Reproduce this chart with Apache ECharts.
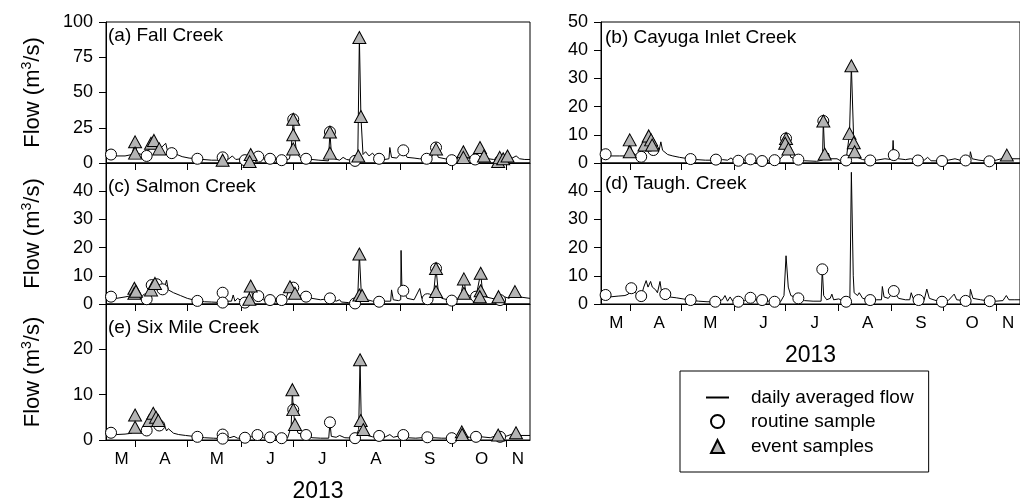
<!DOCTYPE html>
<html>
<head>
<meta charset="utf-8">
<script src="https://cdn.jsdelivr.net/npm/echarts@6/dist/echarts.min.js"></script>
<style>
html,body{margin:0;padding:0;background:#fff;}
#chart{width:1020px;height:504px;}
</style>
</head>
<body>
<div id="chart"></div>
<script>
// x values are day-of-year 2013
const xMin = 74;   // 15 Mar
const xMax = 319;  // 15 Nov
const monthTickDays = [91, 121, 152, 182, 213, 244, 274, 305];
const monthLabelDays = [83, 108, 138, 169, 199, 230, 261, 291, 312];
const monthLabels = ['M', 'A', 'M', 'J', 'J', 'A', 'S', 'O', 'N'];
const yearLabel = '2013';
const yNameParts = ['Flow (m', '3', '/s)'];
const legendNames = ['daily averaged flow', 'routine sample', 'event samples'];
const panelTitles = ['(a) Fall Creek', '(b) Cayuga Inlet Creek', '(c) Salmon Creek', '(d) Taugh. Creek', '(e) Six Mile Creek'];

// (a) Fall Creek
const flowA = [[74,5.5],[77,6],[80,5],[85,5],[89,6],[90.8,15],[92,7],[96,5.5],[97.5,5],[99,10],[100.4,15],[101.7,16],[103,12],[104.8,10],[106,11],[108.5,14],[109.5,9],[112,7],[115,6],[118,4.5],[122,3.5],[126.8,3],[130,2.5],[135,2],[140,2],[141.4,4],[143,2],[145,3],[147,5],[149,2.5],[152,3],[154.3,2],[156,2.5],[157.6,6],[159,3],[162,4.5],[165,3],[168.8,3],[172,2.5],[175.5,2],[178,2],[180,3],[181,10],[182.2,31],[183,20],[184,8],[186,4],[189.6,3],[193,2.5],[197,2],[202.5,1.5],[203.4,22],[204.2,7],[206,3],[209,2],[211,4],[213,2.5],[217.9,1.5],[219.5,5],[220.4,89],[221.3,33],[222.5,6],[224,8],[226,5],[228,7],[230,4],[231.8,3],[235,2.5],[237.5,3],[238,11],[239,4],[242,3.5],[245.8,9],[248,4],[252,3.5],[255,3],[259.3,3],[262,4],[264.7,10],[266,4],[270,3],[273.8,2],[277,3],[280.5,8],[282,4],[285,3],[287.3,2.5],[290.1,11],[292.4,5],[295,3],[298,2.5],[301,1.5],[303,4],[306,5],[308,3],[311,5],[313,3],[316,2.5],[319,2.5]];
const routineA = [[76.9,6],[97.5,5],[112,7],[126.8,3],[141.4,4],[154.3,2],[162,4.5],[168.8,3],[175.5,2],[182.2,31],[189.6,3],[203.4,22],[217.9,1.5],[231.8,3],[245.8,9],[259.3,3],[264.7,11],[273.8,2],[287.3,2.5],[301.7,1.5]];
const eventA = [[90.8,15],[90.8,7],[100,14],[101.7,16],[104.8,10],[141.4,2],[157.6,6],[157,1],[182.2,31],[182.2,20],[182.2,10],[203.4,22],[203.4,7],[220.4,89],[221.3,33],[219.8,5],[264.7,10],[280.5,8],[280.5,4],[290.1,11],[292.4,5],[300.6,1],[301.5,4],[303.5,3],[306,5]];

// (b) Cayuga Inlet Creek
const flowB = [[74,3],[76.7,3.1],[79,2.5],[85,2.5],[89,2.5],[90.8,8],[92,4],[95,2.5],[97.5,2.2],[99.4,6.4],[101.9,9.6],[103.3,8],[104.6,5],[106,5],[108,4.5],[109,7.5],[110,4.5],[113,3],[116,2.5],[120,2],[126.4,1.4],[130,1.2],[135,1],[141.2,1],[145,1.2],[148,1],[150,1.8],[152,0.8],[154.3,0.8],[158,1],[161.4,1.3],[165,0.8],[168.2,0.7],[172,0.8],[175.5,1],[178,1],[181,3],[182.2,8.7],[183.6,5],[185,2],[189.4,1.2],[193,0.8],[200,0.6],[203.5,1],[204,14.9],[204.8,3.2],[206,2],[207,3.5],[208,1.5],[212,1.5],[214,0.8],[217.3,0.9],[219.3,10.5],[220.4,34.5],[221.8,7.2],[222.3,4],[224,2],[227,1.2],[231.4,0.9],[235,1],[240,1.5],[244.3,1.2],[244.8,8],[245.2,2.8],[248,1.5],[252,1.2],[255,1.5],[259.3,0.9],[263,1],[265,2],[267,0.8],[273.4,0.7],[277,1],[281,1.5],[285,0.8],[287.2,0.9],[289.5,1.2],[290,4],[291,1.5],[295,1],[301.1,0.6],[305,1],[308,1.5],[311.3,2.8],[314,1.5],[319,1.5]];
const routineB = [[76.7,3.1],[97.5,2.2],[104.6,4.6],[126.4,1.4],[141.2,1.2],[154.3,0.8],[161.4,1.3],[168.2,0.7],[175.5,1],[182.2,8.7],[189.4,1.2],[204,14.9],[217.3,0.9],[231.4,0.9],[245.2,2.8],[259.3,0.9],[273.4,0.7],[287.2,0.9],[301.1,0.6]];
const eventB = [[90.8,8.2],[90.8,4],[99.4,6.4],[101.9,9.6],[103.3,8.2],[103.9,6.4],[182.2,8.7],[181.7,7],[183.6,5],[204,14.9],[204.8,3.2],[220.4,34.5],[219.3,10.5],[221.8,7.2],[222.3,4],[311.3,2.8]];

// (c) Salmon Creek
const flowC = [[74,2.5],[76.9,2.6],[80,2],[85,2.5],[89,3],[90.5,5.6],[92,3.5],[95,2],[97.5,1.7],[100,5],[102.3,7.3],[103.3,7],[105,5.5],[106.7,5.2],[108,6],[109,8.5],[110,5],[113,4],[117,3],[121,2],[126.8,1.1],[131,0.8],[135,0.7],[141,0.5],[143,1],[146.5,1],[147.5,3.2],[148.5,1],[150,2],[154.3,0.5],[156,1],[157.6,6.4],[159,2],[162,2.8],[165,1.5],[168.8,1.4],[172,1.2],[175.5,1.4],[178,2],[180.3,6.1],[182.2,5.8],[183.2,3.8],[185,3],[189.6,2.6],[193,2],[198,1.5],[203.4,2],[207,1],[209,1.5],[210,0.7],[214,0.5],[217.9,0.2],[219.5,3],[220.4,17.7],[221.5,4],[223,3],[225,1.5],[228,1],[231.8,0.8],[235,1],[238.5,1],[239,5],[240,1.5],[243,1.2],[244.3,1.5],[244.5,19],[245,5.5],[245.8,4.7],[248,2],[252,1.5],[255.3,5.5],[256.5,2],[259.8,1.7],[262,2],[263.5,5],[264.7,12.6],[266,4.4],[268,2],[273.8,1.2],[277,1.5],[279,3],[280.8,8.9],[282,3.8],[285,2.5],[287.8,2.6],[290.5,10.9],[291.5,4.7],[293,2.6],[297,2],[301,1.4],[304,2.6],[307,2],[310.3,4.4],[313,2.5],[319,2]];
const routineC = [[76.9,2.6],[97.5,1.7],[100.4,6.7],[103.3,7],[106.7,5.2],[126.8,1.1],[141.4,4],[141.4,0.5],[154.3,0.5],[162,2.8],[168.8,1.4],[175.5,1.4],[182.2,5.8],[189.6,2.6],[203.4,2],[217.9,0.2],[231.8,0.8],[245.8,4.7],[259.8,1.7],[264.7,12.6],[273.8,1.2],[287.8,2.6],[301.7,1.4]];
const eventC = [[90.4,5.6],[90.4,3.8],[91.3,4.5],[100,5],[102.3,7.3],[157.6,6.4],[156.8,1.7],[180.3,6.1],[183.2,3.8],[220.4,17.7],[220.4,3.2],[222,3],[264.7,12.6],[264.7,4.4],[280.8,8.9],[280.8,3.8],[290.5,10.9],[290.5,4.7],[290,2.6],[300.8,2.6],[310.3,4.4]];

// (d) Taugh. Creek
const flowD = [[74,3.2],[76.7,3.2],[79,2.5],[84,2.8],[88,3],[90,3.5],[91.7,5.6],[94,4],[97.5,2.8],[99,6],[100.4,8.3],[101.5,6],[103,8],[104,6],[106,5],[107,4],[108.5,8],[109.5,4],[111.6,3.5],[114,2.5],[118,2.2],[122,1.8],[126.4,1.4],[131,1],[136,0.8],[140.8,0.8],[145,1.5],[146.5,3],[148,1],[149.5,2.5],[151,1],[154.3,0.8],[158,1.2],[161.4,2.2],[165,1.5],[168.2,1.4],[172,1],[175.5,0.8],[179,0.8],[181,3],[182.2,17.1],[183.5,6],[185,3],[187,2.5],[189.4,2],[193,1.2],[198,1],[202.7,1],[203.4,12.3],[204.2,3],[206,1.5],[208,2],[209,3.5],[210,1.5],[213,1.8],[217.3,0.8],[219.5,1],[220.4,46.7],[221.5,10],[222,4],[223,4.7],[224,3],[225,4],[227,2],[231.4,1.4],[235,1.5],[238,1.5],[238.5,6.2],[239.5,2.5],[242,2],[245.2,4.6],[248,2],[252,1.5],[254.5,1.5],[255.4,4],[256.5,2],[259.7,1.4],[263,1.5],[264.5,5.3],[266,2],[270,1.2],[273.4,0.8],[277,1.2],[280.5,3.5],[282,1.5],[287.2,1.1],[289.5,1.2],[290,5.2],[291.5,2],[296,1.5],[301.3,1],[305,1],[309,1.2],[311,3],[312.5,1.5],[316,1.5],[319,1.5]];
const routineD = [[76.7,3.2],[91.7,5.6],[97.5,2.8],[111.6,3.5],[126.4,1.4],[140.8,0.8],[154.3,0.8],[161.4,2.2],[168.2,1.4],[175.5,0.8],[189.4,2],[203.4,12.3],[217.3,0.8],[231.4,1.4],[245.2,4.6],[259.7,1.4],[273.4,0.8],[287.2,1.1],[301.3,1]];
const eventD = [];

// (e) Six Mile Creek
const flowE = [[74,1.6],[76.9,1.6],[80,1.2],[85,1.3],[89,1.5],[90.8,2.8],[92,2],[95,2],[97.5,2.1],[99,4.3],[101.3,5.9],[102.9,4.6],[104.2,4.3],[104.8,3.2],[106,2.5],[108,3],[109,2],[110,2.5],[113,1.5],[116,1.2],[120,1],[126.8,0.7],[131,0.5],[136,0.4],[141.4,0.3],[144,1],[145.5,0.5],[148,0.8],[150,0.4],[154.3,0.5],[158,0.7],[161.5,1.1],[165,0.5],[168.8,0.6],[172,0.4],[175.5,0.4],[179,0.5],[181,3],[181.7,11.1],[182.2,6.7],[183.2,3.4],[185,1.5],[189.6,1.1],[193,0.5],[198,0.4],[202.7,0.4],[203.4,3.9],[204.2,0.8],[207,0.6],[209,1],[212,0.5],[217.9,0.4],[220,2.3],[220.8,17.7],[221.5,4.3],[222.7,2.3],[225,1],[228,0.7],[231.8,0.9],[235,0.6],[238,1.2],[240,0.6],[245.8,1.1],[248,0.5],[253,0.4],[259.7,0.6],[263,0.5],[268,0.4],[273.8,0.4],[277,0.5],[279.6,1.8],[281,0.8],[284,0.6],[287.8,0.7],[290,1.5],[291,0.7],[296,0.5],[300.6,1.1],[301.7,0.7],[305,0.8],[310.9,1.6],[313,1],[319,1]];
const routineE = [[76.9,1.6],[97.5,2.1],[104.8,3.2],[126.8,0.7],[141.4,1.2],[141.4,0.3],[154.3,0.5],[161.5,1.1],[168.8,0.6],[175.5,0.4],[182.2,6.7],[189.6,1.1],[203.4,3.9],[217.9,0.4],[231.8,0.9],[245.8,1.1],[259.7,0.6],[273.8,0.4],[287.8,0.7],[301.7,0.7]];
const eventE = [[90.8,5.5],[90.8,2.8],[99,4.3],[101.3,5.9],[102.9,5],[104.2,4.3],[181.7,11.1],[182.2,6.7],[183.2,3.4],[220.8,17.7],[221.2,4.3],[222.7,2.3],[279.6,1.8],[279.8,1.2],[300.6,1.1],[310.9,1.6]];

const yMaxes = [100, 50, 50, 50, 30];
const yIntervals = [25, 10, 10, 10, 10];

const FONT = '"Liberation Sans", Arial, Helvetica, sans-serif';
const panels = [
  {left:106, top:22, flow:flowA, routine:routineA, event:eventA, showX:false, yname:true, tl:108, tt:26},
  {left:601, top:22, flow:flowB, routine:routineB, event:eventB, showX:false, yname:false, tl:605, tt:28},
  {left:106, top:163, flow:flowC, routine:routineC, event:eventC, showX:false, yname:true, tl:108, tt:177},
  {left:601, top:163, flow:flowD, routine:routineD, event:eventD, showX:true, yname:false, tl:605, tt:174},
  {left:106, top:304, flow:flowE, routine:routineE, event:eventE, showX:true, yname:true, tl:108, tt:318}
];

const yNameRich = '{a|' + yNameParts[0] + '}{s|' + yNameParts[1] + '}{a|' + yNameParts[2] + '}';

const grids = [], xAxes = [], yAxes = [], series = [], titles = [];
panels.forEach((p, i) => {
  grids.push({left:p.left, top:p.top, width:424, height:141, show:true, borderColor:'#000', borderWidth:1, backgroundColor:'transparent', containLabel:false});
  xAxes.push({
    type:'value', gridIndex:i, min:xMin, max:xMax,
    splitLine:{show:false},
    axisLine:{show:true, onZero:false, lineStyle:{color:'#000', width:1}},
    axisTick:{show:true, inside:false, length:7, customValues:monthTickDays, lineStyle:{color:'#000', width:1}},
    axisLabel:{show:p.showX, customValues:monthLabelDays, margin:11, color:'#000', fontSize:17, fontFamily:FONT,
      formatter: v => { const k = monthLabelDays.indexOf(v); return k >= 0 ? monthLabels[k] : ''; }},
    name: p.showX ? yearLabel : '', nameLocation:'middle', nameGap:40,
    nameTextStyle:{color:'#000', fontSize:23, fontFamily:FONT}
  });
  yAxes.push({
    type:'value', gridIndex:i, min:0, max:yMaxes[i], interval:yIntervals[i],
    splitLine:{show:false},
    axisLine:{show:true, lineStyle:{color:'#000', width:1}},
    axisTick:{show:true, inside:false, length:7, lineStyle:{color:'#000', width:1}},
    axisLabel:{color:'#000', fontSize:18, fontFamily:FONT, margin:13, showMaxLabel: (i < 2)},
    name: p.yname ? yNameRich : '', nameLocation:'middle', nameRotate:90, nameGap:62,
    nameTextStyle:{color:'#000', fontFamily:FONT,
      rich:{
        a:{fontSize:22, fontFamily:FONT, color:'#000', lineHeight:24, verticalAlign:'bottom'},
        s:{fontSize:14, fontFamily:FONT, color:'#000', lineHeight:24, verticalAlign:'top', padding:[0,0,0,0]}
      }}
  });
  titles.push({text:panelTitles[i], left:p.tl, top:p.tt, padding:0,
    textStyle:{fontSize:19, fontWeight:'normal', color:'#000', fontFamily:FONT, lineHeight:20}});
  series.push({name:legendNames[0], type:'line', xAxisIndex:i, yAxisIndex:i, data:p.flow, symbol:'none',
    lineStyle:{color:'#000', width:1}, itemStyle:{color:'#000'}, z:2, animation:false});
  series.push({name:legendNames[1], type:'scatter', xAxisIndex:i, yAxisIndex:i, data:p.routine, symbol:'circle', symbolSize:11,
    itemStyle:{color:'#fff', borderColor:'#000', borderWidth:1, opacity:1}, z:3, animation:false});
  series.push({name:legendNames[2], type:'scatter', xAxisIndex:i, yAxisIndex:i, data:p.event, symbol:'triangle', symbolSize:[13,12],
    itemStyle:{color:'#b4b4b4', borderColor:'#000', borderWidth:1, opacity:1}, z:4, animation:false});
});

const legendText = {color:'#000', fontSize:19, fontFamily:FONT, lineHeight:19};
const chart = echarts.init(document.getElementById('chart'), null, {renderer:'canvas'});
chart.setOption({
  animation:false,
  backgroundColor:'#fff',
  title: titles,
  grid: grids,
  xAxis: xAxes,
  yAxis: yAxes,
  legend: [{
    data: [{name:legendNames[0], itemStyle:{color:'rgba(0,0,0,0)', borderColor:'rgba(0,0,0,0)', borderWidth:0, opacity:0}}],
    orient:'vertical', left:680, top:371,
    borderColor:'#000', borderWidth:1, padding:[17,15,65,25],
    itemWidth:23, itemHeight:13, selectedMode:false,
    textStyle:Object.assign({padding:[0,0,0,17]}, legendText)
  }, {
    data: [legendNames[1], legendNames[2]],
    orient:'vertical', left:710, top:412, padding:0,
    itemWidth:13, itemHeight:13, itemGap:6, symbolKeepAspect:true, selectedMode:false,
    textStyle:Object.assign({padding:[0,0,0,22]}, legendText)
  }],
  series: series
});
</script>
</body>
</html>
